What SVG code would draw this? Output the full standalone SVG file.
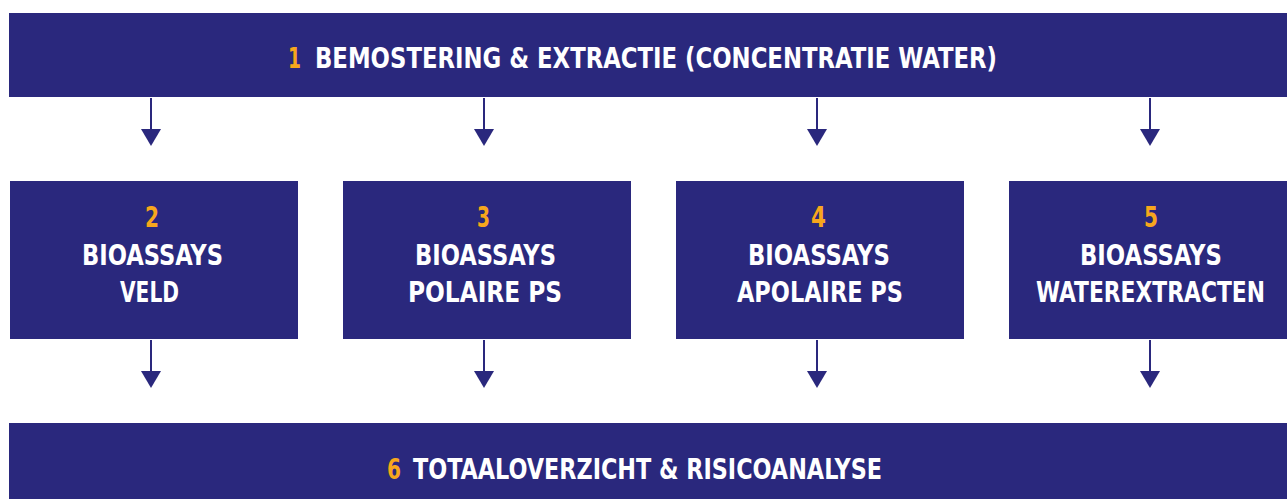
<svg xmlns="http://www.w3.org/2000/svg" width="1287" height="499" viewBox="0 0 1287 499">
<style>
.box{fill:#2A287D}
.t{font-family:"Liberation Sans Narrow","DejaVu Sans Condensed","Liberation Sans",sans-serif;font-weight:bold;font-size:28px;fill:#FFFFFF}
.n{font-family:"Liberation Sans Narrow","DejaVu Sans Condensed","Liberation Sans",sans-serif;font-weight:bold;font-size:28px;fill:#F7A71C}
.ln{stroke:#2A287D;stroke-width:2;fill:none}
.ah{fill:#2A287D}
</style>
<rect width="1287" height="499" fill="#FFFFFF"/>
<g id="node1">
<rect class="box" x="9" y="13" width="1278" height="84"/>
<text class="n" x="288" y="68" textLength="13" lengthAdjust="spacingAndGlyphs">1</text>
<text class="t" x="315" y="68" textLength="682" lengthAdjust="spacingAndGlyphs">BEMOSTERING &amp; EXTRACTIE (CONCENTRATIE WATER)</text>
</g>
<g id="node2">
<rect class="box" x="10" y="181" width="288" height="158"/>
<text class="n" x="145" y="227" textLength="14" lengthAdjust="spacingAndGlyphs">2</text>
<text class="t" x="82" y="265" textLength="141" lengthAdjust="spacingAndGlyphs">BIOASSAYS</text>
<text class="t" x="120" y="302" textLength="59" lengthAdjust="spacingAndGlyphs">VELD</text>
</g>
<g id="node3">
<rect class="box" x="343" y="181" width="288" height="158"/>
<text class="n" x="477" y="227" textLength="13" lengthAdjust="spacingAndGlyphs">3</text>
<text class="t" x="415" y="265" textLength="141" lengthAdjust="spacingAndGlyphs">BIOASSAYS</text>
<text class="t" x="408" y="302" textLength="154" lengthAdjust="spacingAndGlyphs">POLAIRE PS</text>
</g>
<g id="node4">
<rect class="box" x="676" y="181" width="288" height="158"/>
<text class="n" x="811" y="227" textLength="15" lengthAdjust="spacingAndGlyphs">4</text>
<text class="t" x="748" y="265" textLength="142" lengthAdjust="spacingAndGlyphs">BIOASSAYS</text>
<text class="t" x="737" y="302" textLength="166" lengthAdjust="spacingAndGlyphs">APOLAIRE PS</text>
</g>
<g id="node5">
<rect class="box" x="1009" y="181" width="278" height="158"/>
<text class="n" x="1144" y="227" textLength="14" lengthAdjust="spacingAndGlyphs">5</text>
<text class="t" x="1080" y="265" textLength="142" lengthAdjust="spacingAndGlyphs">BIOASSAYS</text>
<text class="t" x="1036" y="302" textLength="229" lengthAdjust="spacingAndGlyphs">WATEREXTRACTEN</text>
</g>
<g id="node6">
<rect class="box" x="9" y="423" width="1278" height="76"/>
<text class="n" x="387" y="479" textLength="14" lengthAdjust="spacingAndGlyphs">6</text>
<text class="t" x="413" y="479" textLength="469" lengthAdjust="spacingAndGlyphs">TOTAALOVERZICHT &amp; RISICOANALYSE</text>
</g>
<g id="connectors">
<line class="ln" x1="151" y1="98" x2="151" y2="131"/>
<polygon class="ah" points="141,129 161,129 151,146"/>
<line class="ln" x1="484" y1="98" x2="484" y2="131"/>
<polygon class="ah" points="474,129 494,129 484,146"/>
<line class="ln" x1="817" y1="98" x2="817" y2="131"/>
<polygon class="ah" points="807,129 827,129 817,146"/>
<line class="ln" x1="1150" y1="98" x2="1150" y2="131"/>
<polygon class="ah" points="1140,129 1160,129 1150,146"/>
<line class="ln" x1="151" y1="340" x2="151" y2="373"/>
<polygon class="ah" points="141,371 161,371 151,388"/>
<line class="ln" x1="484" y1="340" x2="484" y2="373"/>
<polygon class="ah" points="474,371 494,371 484,388"/>
<line class="ln" x1="817" y1="340" x2="817" y2="373"/>
<polygon class="ah" points="807,371 827,371 817,388"/>
<line class="ln" x1="1150" y1="340" x2="1150" y2="373"/>
<polygon class="ah" points="1140,371 1160,371 1150,388"/>
</g>
</svg>
